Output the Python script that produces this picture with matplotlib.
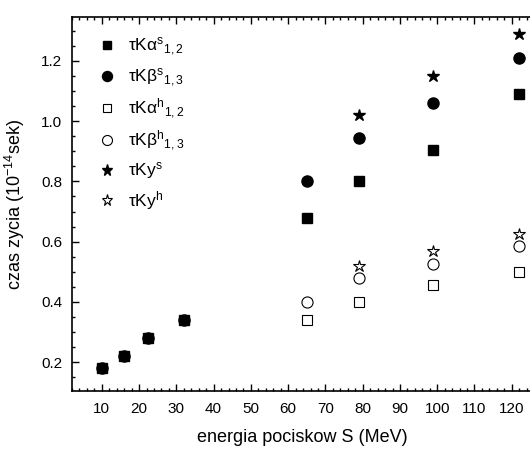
import numpy as np
from matplotlib import pyplot as plt
from matplotlib.ticker import MultipleLocator

plt.rcParams['font.family'] = ['Liberation Sans', 'DejaVu Sans']
plt.rcParams['mathtext.fontset'] = 'custom'
plt.rcParams['mathtext.rm'] = 'Liberation Sans'
plt.rcParams['mathtext.it'] = 'Liberation Sans'
plt.rcParams['mathtext.default'] = 'regular'

# energies (MeV)
e_low = [10, 16, 22.5, 32]
e_high = [65, 79, 99, 122]
e_y = [79, 99, 122]

# lifetimes (1e-14 s)
low_vals = [0.18, 0.22, 0.28, 0.34]
ka_s = [0.68, 0.80, 0.905, 1.09]
kb_s = [0.80, 0.945, 1.06, 1.21]
ka_h = [0.34, 0.40, 0.455, 0.50]
kb_h = [0.40, 0.48, 0.525, 0.585]
ky_s = [1.02, 1.15, 1.29]
ky_h = [0.52, 0.57, 0.625]

fig = plt.figure(figsize=(5.30, 4.49), dpi=100)
ax = fig.add_axes((72 / 530, 1 - 391 / 449, 461 / 530, 374 / 449))

ax.plot(e_low + e_high, low_vals + ka_s, 's', color='black', ms=6.5,
        label=r'$\tau K\alpha^{s}$$_{1,2}$')
ax.plot(e_low + e_high, low_vals + kb_s, 'o', color='black', ms=8,
        label=r'$\tau K\beta^{s}$$_{1,3}$')
ax.plot(e_high, ka_h, 's', mfc='white', mec='black', ms=6.5, mew=0.8,
        label=r'$\tau K\alpha^{h}$$_{1,2}$')
ax.plot(e_high, kb_h, 'o', mfc='white', mec='black', ms=8, mew=0.8,
        label=r'$\tau K\beta^{h}$$_{1,3}$')
ax.plot(e_y, ky_s, '*', color='black', ms=9, label=r'$\tau Ky^{s}$')
ax.plot(e_y, ky_h, '*', mfc='white', mec='black', ms=9, mew=0.8,
        label=r'$\tau Ky^{h}$')

ax.set_xlim(2, 125.7)
ax.set_ylim(0.104, 1.346)
ax.xaxis.set_major_locator(MultipleLocator(10))
ax.xaxis.set_minor_locator(MultipleLocator(2))
ax.yaxis.set_major_locator(MultipleLocator(0.2))
ax.yaxis.set_minor_locator(MultipleLocator(0.05))
ax.xaxis.set_major_formatter(lambda v, p: '%d' % v if v >= 10 else '')
ax.tick_params(which='both', direction='in', top=True, right=False,
               labelsize=11, width=1)
ax.tick_params(which='major', length=5, pad=7)
ax.tick_params(which='minor', length=2.5)
ax.tick_params(axis='x', which='major', pad=8)
for s in ax.spines.values():
    s.set_linewidth(1.2)

ax.set_xlabel('energia pociskow S (MeV)', fontsize=13, labelpad=9)
ax.set_ylabel('czas zycia (10$^{-14}$sek)', fontsize=13, labelpad=10)

ax.legend(loc='upper left', bbox_to_anchor=(0.015, 1.0), frameon=False,
          fontsize=12.5, handletextpad=0.75, labelspacing=0.45,
          borderaxespad=0.7, handlelength=1.0, markerscale=0.9)

fig.savefig('out.png', dpi=100)
